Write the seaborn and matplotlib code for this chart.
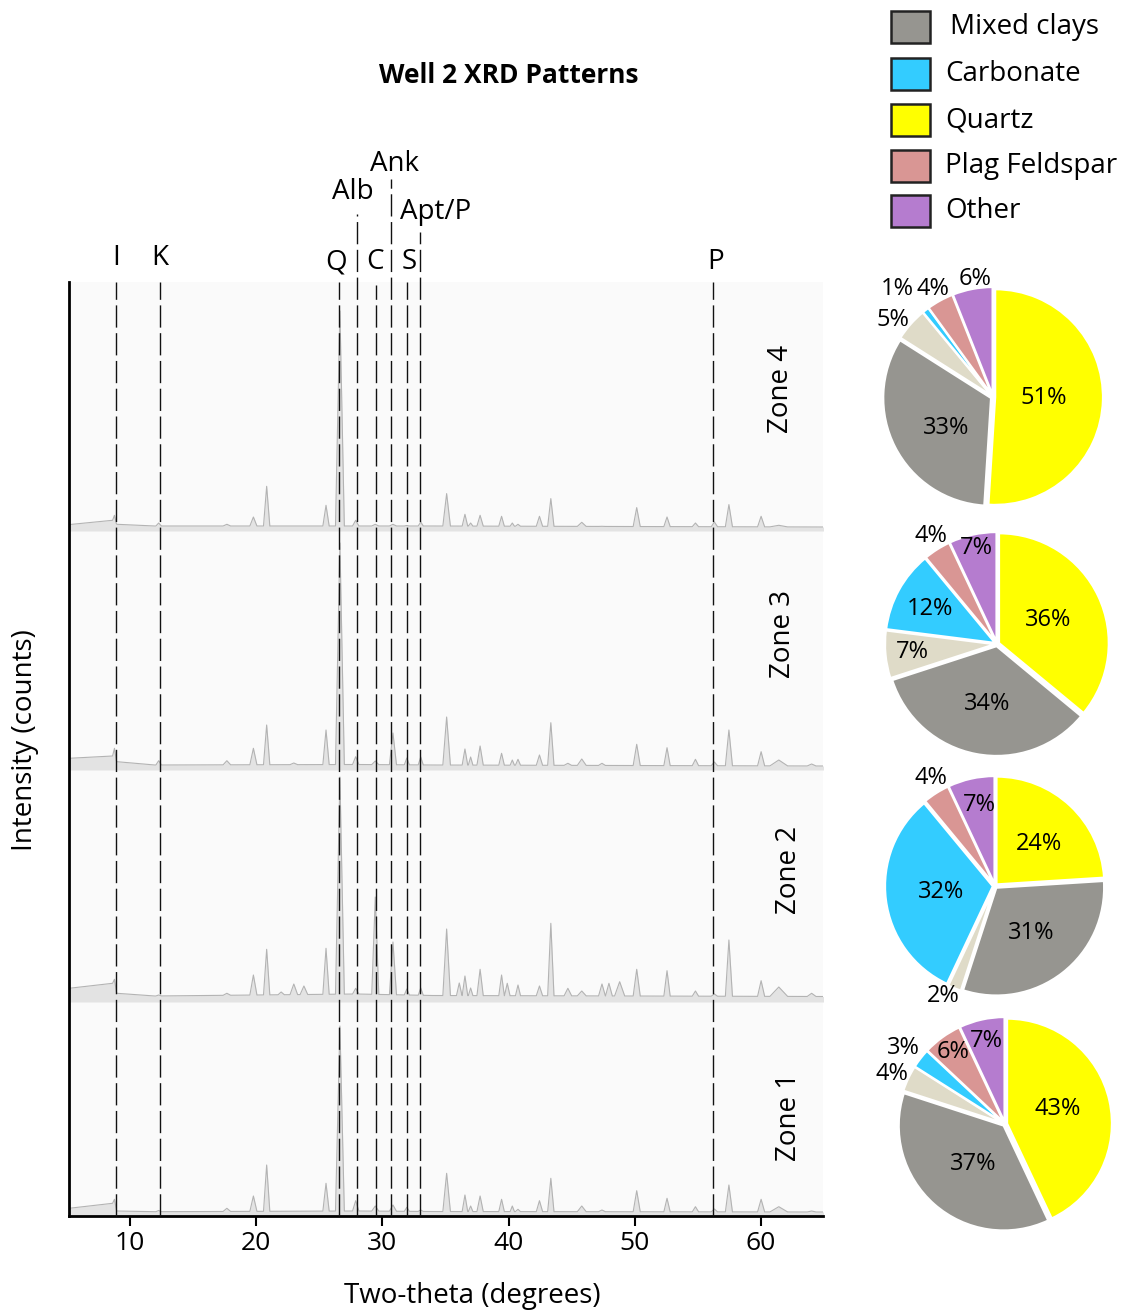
import numpy as np
import pandas as pd
import matplotlib
matplotlib.use("Agg")
import matplotlib.pyplot as plt
from matplotlib.patches import Rectangle
import seaborn as sns

sns.set_theme(style="white")
plt.rcParams["font.family"] = ["Open Sans", "DejaVu Sans"]
plt.rcParams.update({"text.color": "black", "axes.labelcolor": "black",
                     "xtick.color": "black", "ytick.color": "black"})

W, H = 1129, 1315

# ---------------- XRD patterns ----------------
# Peak positions (degrees 2-theta) and their half widths at the base
PEAK_POS = [8.8, 12.3, 17.7, 19.8, 20.85, 22.0, 23.0, 23.8, 25.55, 26.65,
            27.9, 29.45, 30.85, 31.95, 33.05, 35.1, 36.1, 36.55, 37.0, 37.75,
            39.45, 39.9, 40.3, 40.75, 42.45, 43.35, 44.7, 45.8, 47.4, 47.95,
            48.8, 50.15, 52.55, 54.8, 56.3, 57.45, 60.0, 61.4, 64.0]
PEAK_HW = [0.15, 0.22, 0.3, 0.28, 0.25, 0.25, 0.3, 0.3, 0.25, 0.35,
           0.25, 0.28, 0.28, 0.2, 0.2, 0.3, 0.22, 0.22, 0.18, 0.25,
           0.22, 0.22, 0.17, 0.2, 0.25, 0.25, 0.3, 0.35, 0.27, 0.27,
           0.4, 0.28, 0.25, 0.25, 0.25, 0.28, 0.28, 0.7, 0.35]

# Peak-top intensity per zone (counts above the zone's baseline, 0 = no peak)
ZONE4_PEAKS = [15.7, 8.0, 6.7, 14.0, 44.7, 0, 0, 0, 25.7, 220,
               10.7, 6.7, 6.7, 5.5, 9.0, 37.4, 0, 16.7, 8.0, 15.7,
               14.7, 0, 8.0, 6.7, 14.7, 32.4, 0, 8.7, 4.7, 0,
               0, 23.4, 14.0, 8.0, 9.0, 26.4, 14.7, 5.7, 0]
ZONE3_PEAKS = [21.7, 9.3, 9.3, 21.7, 45.0, 0, 7.0, 0, 40.0, 227,
               13.3, 9.0, 37.0, 12.0, 13.0, 53.0, 0, 21.0, 13.0, 24.0,
               16.7, 0, 10.0, 10.7, 15.0, 47.3, 6.7, 11.0, 6.7, 0,
               0, 25.7, 22.3, 10.7, 8.0, 40.0, 18.3, 10.0, 6.0]
ZONE2_PEAKS = [22.7, 7.0, 8.7, 27.0, 52.7, 10.0, 18.0, 16.0, 53.7, 225,
               13.7, 105, 60.0, 13.0, 14.0, 73.0, 19.0, 26.0, 14.0, 32.7,
               27.0, 18.7, 0, 17.0, 16.0, 78.7, 13.7, 11.0, 18.0, 18.7,
               20.3, 32.7, 31.3, 11.0, 8.0, 62.0, 21.3, 15.0, 8.7]
ZONE1_PEAKS = [16.7, 5.5, 7.7, 20.0, 51.0, 0, 0, 0, 32.7, 190,
               15.3, 10.0, 11.0, 8.7, 6.0, 42.7, 0, 21.0, 10.0, 20.0,
               16.7, 0, 10.0, 6.7, 15.3, 37.7, 0, 10.0, 6.0, 0,
               0, 25.3, 17.7, 9.3, 7.0, 31.0, 16.7, 9.3, 5.0]

# Background level between peaks
BG_POS = [5.2, 8.65, 9.0, 12.0, 28.0, 34.0, 65.0]
ZONE4_BG = [6.4, 10.7, 6.7, 5.0, 5.0, 5.0, 4.0]
ZONE3_BG = [11.7, 14.0, 8.3, 5.0, 5.5, 5.0, 4.0]
ZONE2_BG = [13.7, 18.7, 8.7, 6.0, 8.0, 6.5, 5.5]
ZONE1_BG = [7.7, 12.7, 5.0, 4.3, 5.0, 4.5, 4.0]

ZONES = ["Zone 4", "Zone 3", "Zone 2", "Zone 1"]

# Reference peak markers
MARKER_POS = [8.9, 12.4, 26.55, 27.97, 29.48, 30.67, 31.93, 32.96, 56.16]
MARKER_LABELS = ["I", "K", "Q", "Alb", "C", "Ank", "S", "Apt/P", "P"]

# ---------------- Mineralogy pies ----------------
MINERALS = ["Quartz", "Mixed clays", "Minor phases", "Carbonate", "Plag Feldspar", "Other"]
ZONE4_PCT = [51, 33, 5, 1, 4, 6]
ZONE3_PCT = [36, 34, 7, 12, 4, 7]
ZONE2_PCT = [24, 31, 2, 32, 4, 7]
ZONE1_PCT = [43, 37, 4, 3, 6, 7]
LEGEND_ORDER = ["Mixed clays", "Carbonate", "Quartz", "Plag Feldspar", "Other"]

COLORS = {"Quartz": "#ffff00", "Mixed clays": "#969590", "Minor phases": "#dfdbc8",
          "Carbonate": "#33ccff", "Plag Feldspar": "#d99694", "Other": "#b57ccf"}

# ---------------- layout ----------------
fig = plt.figure(figsize=(W / 100, H / 100), dpi=100)


def px_axes(x0, y0, x1, y1, **kw):
    return fig.add_axes([x0 / W, 1 - y1 / H, (x1 - x0) / W, (y1 - y0) / H], **kw)


AX_L, AX_T, AX_R, AX_B = 69, 282, 823, 1216
XLIM = (5.2, 64.9)
ax = px_axes(AX_L, AX_T, AX_R, AX_B)
ax.set_facecolor("#fafafa")
ax.set_xlim(*XLIM)
ax.set_ylim(0, AX_B - AX_T)


def px_to_data(px, py):
    x = XLIM[0] + (px - AX_L) / (AX_R - AX_L) * (XLIM[1] - XLIM[0])
    return x, AX_B - py


ZONE_BASE = {"Zone 1": 0, "Zone 2": AX_B - 1002, "Zone 3": AX_B - 770, "Zone 4": AX_B - 531}


def build_trace(peaks, bg):
    pts = []
    spans = []
    for p, hw, h in zip(PEAK_POS, PEAK_HW, peaks):
        if h <= 0:
            continue
        b0 = np.interp(p - hw, BG_POS, bg)
        b1 = np.interp(p + hw, BG_POS, bg)
        pts += [(p - hw, b0), (p, max(h, np.interp(p, BG_POS, bg))), (p + hw, b1)]
        spans.append((p - hw, p + hw))
    for x, y in zip(BG_POS, bg):
        if not any(a <= x <= b for a, b in spans):
            pts.append((x, y))
    pts.sort(key=lambda t: t[0])
    return np.array([t[0] for t in pts]), np.array([t[1] for t in pts])


frames = []
zone_data = {"Zone 4": (ZONE4_PEAKS, ZONE4_BG), "Zone 3": (ZONE3_PEAKS, ZONE3_BG),
             "Zone 2": (ZONE2_PEAKS, ZONE2_BG), "Zone 1": (ZONE1_PEAKS, ZONE1_BG)}
for zone in ZONES:
    pk, bg = zone_data[zone]
    xs, ys = build_trace(pk, bg)
    base = ZONE_BASE[zone]
    ax.fill_between(xs, base, ys + base, color="#e3e3e3", lw=0, zorder=1)
    frames.append(pd.DataFrame({"two_theta": xs, "counts": ys + base, "zone": zone}))
traces = pd.concat(frames, ignore_index=True)
sns.lineplot(data=traces, x="two_theta", y="counts", units="zone", estimator=None,
             sort=False, color="#b3b3b3", lw=0.8, ax=ax, zorder=2)

# marker lines and their labels
line_top_px = [282, 282, 282, 214, 285, 179, 282, 232, 282]
label_px = [(116, 258), (160, 258), (336, 262), (353, 192), (375, 262),
            (395, 164), (409, 262), (436, 212), (716, 262)]
for pos, lab, top, (lx, ly) in zip(MARKER_POS, MARKER_LABELS, line_top_px, label_px):
    ax.plot([pos, pos], [0, AX_B - top], color="#111111", lw=1.0,
            dashes=(16, 4), clip_on=False, zorder=3)
    tx, ty = px_to_data(lx, ly)
    ax.text(tx, ty, lab, ha="center", va="center", fontsize=20, clip_on=False)

# zone labels
zone_label_px = {"Zone 4": (781, 389), "Zone 3": (783, 634), "Zone 2": (789, 870), "Zone 1": (789, 1117)}
for zone, (zx, zy) in zone_label_px.items():
    tx, ty = px_to_data(zx, zy)
    ax.text(tx, ty, zone, rotation=90, ha="center", va="center", fontsize=20, zorder=4)

for s in ["top", "right"]:
    ax.spines[s].set_visible(False)
for s in ["left", "bottom"]:
    ax.spines[s].set_color("black")
    ax.spines[s].set_linewidth(2)
ax.set_xticks([10, 20, 30, 40, 50, 60])
ax.set_yticks([])
ax.tick_params(axis="x", direction="out", length=7, width=1.5, color="black",
               labelsize=19, pad=4, bottom=True, labelcolor="black")
ax.set_xlabel("Two-theta (degrees)", fontsize=20, color="black")
ax.set_ylabel("Intensity (counts)", fontsize=20, color="black")
ax.xaxis.set_label_coords((472 - AX_L) / (AX_R - AX_L), (AX_B - 1296) / (AX_B - AX_T))
ax.xaxis.label.set(va="center", ha="center")
ax.yaxis.set_label_coords((25 - AX_L) / (AX_R - AX_L), (AX_B - 740) / (AX_B - AX_T))
ax.yaxis.label.set(va="center", ha="center")

# pies
pie_geom = {"Zone 4": (993, 397, 110), "Zone 3": (997, 644, 112),
            "Zone 2": (995, 886, 110), "Zone 1": (1005, 1124, 107)}
pie_vals = {"Zone 4": ZONE4_PCT, "Zone 3": ZONE3_PCT, "Zone 2": ZONE2_PCT, "Zone 1": ZONE1_PCT}
pie_label_xy = {
    "Zone 4": [(0.46, -0.01), (-0.43, -0.28), (-0.91, 0.70), (-0.87, 0.98), (-0.55, 0.98), (-0.16, 1.07)],
    "Zone 3": [(0.46, 0.21), (-0.09, -0.54), (-0.76, -0.07), (-0.60, 0.31), (-0.59, 0.96), (-0.18, 0.86)],
    "Zone 2": [(0.40, 0.38), (0.33, -0.43), (-0.47, -1.0), (-0.49, -0.05), (-0.58, 0.98), (-0.14, 0.74)],
    "Zone 1": [(0.49, 0.14), (-0.30, -0.37), (-1.06, 0.47), (-0.95, 0.71), (-0.49, 0.67), (-0.17, 0.78)],
}
EXPLODE = 0.02
LIM = 1.5
for zone in ZONES:
    cx, cy, r = pie_geom[zone]
    unit = r / (1 + EXPLODE)
    half = LIM * unit
    pax = px_axes(cx - half, cy - half, cx + half, cy + half)
    vals = pie_vals[zone]
    pax.pie(vals, colors=[COLORS[m] for m in MINERALS], startangle=90, counterclock=False,
            explode=[EXPLODE] * len(vals), radius=1,
            wedgeprops=dict(edgecolor="white", linewidth=1.6))
    pax.set_xlim(-LIM, LIM)
    pax.set_ylim(-LIM, LIM)
    pax.set_aspect("equal")
    pax.axis("off")
    for v, (lx, ly) in zip(vals, pie_label_xy[zone]):
        pax.text(lx * (1 + EXPLODE), ly * (1 + EXPLODE), f"{v}%", ha="center", va="center",
                 fontsize=17, color="black", clip_on=False)

# overlay for title and legend
canvas = px_axes(0, 0, W, H, zorder=10)
canvas.set_xlim(0, W)
canvas.set_ylim(H, 0)
canvas.axis("off")
canvas.patch.set_alpha(0)
canvas.text(509, 75, "Well 2 XRD Patterns", ha="center", va="center",
            fontsize=19, fontweight="bold", color="black")
legend_rows = [27, 74, 120, 166, 211]
for name, yc in zip(LEGEND_ORDER, legend_rows):
    canvas.add_patch(Rectangle((891, yc - 16), 39, 32, facecolor=COLORS[name],
                               edgecolor="#222222", lw=1.8))
    canvas.text(945 if name != "Mixed clays" else 950, yc, name, ha="left", va="center",
                fontsize=20, color="black")

fig.savefig("out.png", dpi=100)
